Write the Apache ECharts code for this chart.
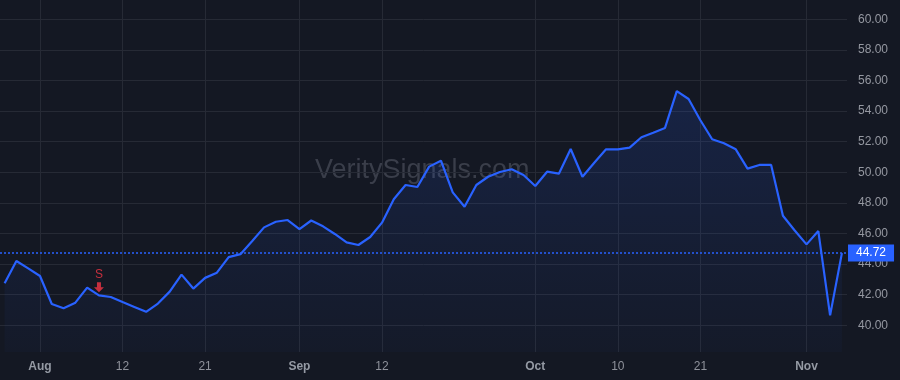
<!DOCTYPE html>
<html>
<head>
<meta charset="utf-8">
<script src="https://cdn.jsdelivr.net/npm/echarts@6/dist/echarts.min.js"></script>
<style>
html,body{margin:0;padding:0;background:#141823;}
#chart{width:900px;height:380px;}
</style>
</head>
<body>
<div id="chart"></div>
<script>
// Trading days (2024)
const dates = [
  '2024-07-29','2024-07-30','2024-07-31',
  '2024-08-01','2024-08-02','2024-08-05','2024-08-06','2024-08-07','2024-08-08','2024-08-09',
  '2024-08-12','2024-08-13','2024-08-14','2024-08-15','2024-08-16',
  '2024-08-19','2024-08-20','2024-08-21','2024-08-22','2024-08-23',
  '2024-08-26','2024-08-27','2024-08-28','2024-08-29','2024-08-30',
  '2024-09-03','2024-09-04','2024-09-05','2024-09-06',
  '2024-09-09','2024-09-10','2024-09-11','2024-09-12','2024-09-13',
  '2024-09-16','2024-09-17','2024-09-18','2024-09-19','2024-09-20',
  '2024-09-23','2024-09-24','2024-09-25','2024-09-26','2024-09-27',
  '2024-09-30','2024-10-01','2024-10-02','2024-10-03','2024-10-04',
  '2024-10-07','2024-10-08','2024-10-09','2024-10-10','2024-10-11',
  '2024-10-14','2024-10-15','2024-10-16','2024-10-17','2024-10-18',
  '2024-10-21','2024-10-22','2024-10-23','2024-10-24','2024-10-25',
  '2024-10-28','2024-10-29','2024-10-30','2024-10-31','2024-11-01',
  '2024-11-04','2024-11-05','2024-11-06'
];
const prices = [
  42.75, 44.20, 43.72,
  43.22, 41.39, 41.11, 41.48, 42.46, 41.96, 41.85,
  41.52, 41.20, 40.88, 41.42, 42.20,
  43.31, 42.40, 43.10, 43.44, 44.46,
  44.65, 45.51, 46.40, 46.77, 46.88,
  46.29, 46.85, 46.47, 45.97,
  45.42, 45.25, 45.77, 46.71, 48.24,
  49.17, 49.04, 50.37, 50.76, 48.69,
  47.75, 49.17, 49.71, 50.02, 50.20,
  49.82, 49.10, 50.04, 49.91, 51.52,
  49.71, 50.62, 51.50, 51.50, 51.61,
  52.29, 52.59, 52.90, 55.31, 54.79,
  53.40, 52.16, 51.90, 51.50, 50.24,
  50.48, 50.48, 47.16, 46.20, 45.29,
  46.16, 40.65, 44.72
];
const tickDates  = ['2024-08-01','2024-08-12','2024-08-21','2024-09-03','2024-09-12','2024-10-01','2024-10-10','2024-10-21','2024-11-01'];
const tickLabels = ['Aug','12','21','Sep','12','Oct','10','21','Nov'];
const monthTicks = ['Aug','Sep','Oct','Nov'];
const yTicks = [40, 42, 44, 46, 48, 50, 52, 54, 56, 58, 60];
const signalDates = ['2024-08-08'];
const signalLabels = ['S'];
const lastPrice = prices[prices.length - 1];
const watermark = 'VeritySignals.com';

const isTick = (idx, val) => tickDates.indexOf(val) >= 0;

const chart = echarts.init(document.getElementById('chart'), null, {renderer: 'canvas'});
const FONT = '"Liberation Sans", Arial, sans-serif';

const option = {
  backgroundColor: '#141823',
  animation: false,
  textStyle: {fontFamily: FONT},
  graphic: [{
    type: 'text',
    left: 315,
    top: 157,
    z: -10,
    silent: true,
    style: {text: watermark, fontSize: 27, fontFamily: FONT, fill: '#3a3e4a'}
  }],
  grid: [
    {left: 0, right: 53, top: 19.3, bottom: 54.7, containLabel: false},
    {left: 4.62, right: 58.1, top: 0, bottom: 28, containLabel: false}
  ],
  xAxis: [
    {type: 'value', gridIndex: 0, min: 0, max: 1, show: false},
    {
      type: 'category', gridIndex: 1, data: dates, boundaryGap: false,
      axisLine: {show: false},
      axisTick: {show: false, interval: isTick},
      splitLine: {show: true, interval: isTick, lineStyle: {color: '#262a35', width: 1}},
      axisLabel: {
        interval: isTick,
        margin: 9,
        formatter: function (val) {
          const i = tickDates.indexOf(val);
          if (i < 0) return '';
          const t = tickLabels[i];
          return monthTicks.indexOf(t) >= 0 ? '{m|' + t + '}' : '{d|' + t + '}';
        },
        rich: {
          m: {fontSize: 12, fontWeight: 'bold', color: '#959aa4', fontFamily: FONT},
          d: {fontSize: 12, color: '#8f929b', fontFamily: FONT}
        }
      }
    }
  ],
  yAxis: [
    {
      type: 'value', gridIndex: 0, position: 'right',
      min: yTicks[0], max: yTicks[yTicks.length - 1], interval: 2,
      axisLine: {show: false}, axisTick: {show: false},
      splitLine: {show: true, lineStyle: {color: '#262a35', width: 1}},
      axisLabel: {
        margin: 11, fontSize: 12, color: '#9598a1', fontFamily: FONT,
        formatter: v => v.toFixed(2)
      }
    },
    {type: 'value', gridIndex: 1, min: 38.255, max: 61.261, show: false}
  ],
  series: [
    {
      name: 'price', type: 'line', xAxisIndex: 1, yAxisIndex: 1,
      data: prices, showSymbol: false, symbol: 'none', z: 3,
      lineStyle: {color: '#2962ff', width: 2.2},
      areaStyle: {
        origin: 'start',
        color: new echarts.graphic.LinearGradient(0, 0, 0, 1, [
          {offset: 0, color: 'rgba(41,98,255,0.22)'},
          {offset: 1, color: 'rgba(41,98,255,0.04)'}
        ])
      }
    },
    {
      name: 'last', type: 'line', xAxisIndex: 0, yAxisIndex: 0,
      data: [], z: 4,
      markLine: {
        silent: true, symbol: ['none', 'none'], animation: false,
        lineStyle: {color: '#2962ff', width: 1.5, type: [2, 2], opacity: 1},
        label: {
          show: true, position: 'end', distance: 1,
          formatter: () => lastPrice.toFixed(2),
          backgroundColor: '#2962ff', color: '#ffffff',
          fontSize: 12, fontFamily: FONT, padding: [3, 8, 2, 8]
        },
        data: [{yAxis: lastPrice}]
      }
    },
    {
      name: 'signal', type: 'scatter', xAxisIndex: 1, yAxisIndex: 1, z: 5,
      data: signalDates.map((d, i) => ({
        value: [d, prices[dates.indexOf(d)]],
        label: {formatter: signalLabels[i]}
      })),
      symbol: 'path://M3,0 L7,0 L7,5 L10,5 L5,10 L0,5 L3,5 Z',
      symbolSize: [10, 10],
      symbolOffset: [0, -8],
      itemStyle: {color: '#f23645'},
      label: {
        show: true, position: 'top', distance: 2,
        color: '#f23645', fontSize: 12, fontFamily: FONT
      }
    }
  ]
};
chart.setOption(option);
</script>
</body>
</html>
